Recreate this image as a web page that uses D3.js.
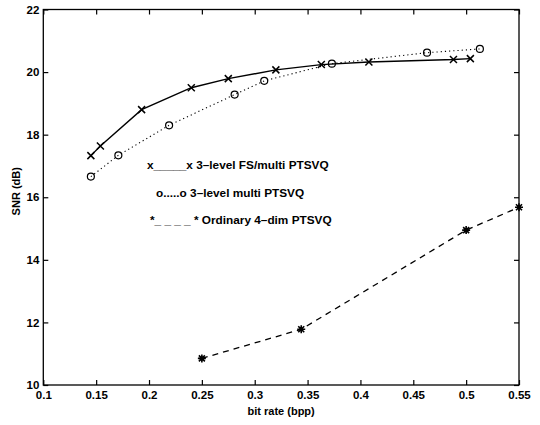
<!DOCTYPE html>
<html>
<head>
<meta charset="utf-8">
<script src="https://cdn.jsdelivr.net/npm/d3@7"></script>
<style>
  html, body { margin: 0; padding: 0; background: #fff; }
  svg { display: block; }
  text { font-family: "Liberation Sans", Arial, sans-serif; fill: #000; }
</style>
</head>
<body>
<svg id="chart" width="540" height="425"></svg>
<script>
// ---- data ----
const xTickValues = [0.1, 0.15, 0.2, 0.25, 0.3, 0.35, 0.4, 0.45, 0.5, 0.55];
const xTickLabels = ["0.1", "0.15", "0.2", "0.25", "0.3", "0.35", "0.4", "0.45", "0.5", "0.55"];
const yTickValues = [10, 12, 14, 16, 18, 20, 22];
const yTickLabels = ["10", "12", "14", "16", "18", "20", "22"];

const fsMultiRate = [0.145, 0.154, 0.193, 0.240, 0.275, 0.320, 0.363, 0.408, 0.488, 0.504];
const fsMultiSNR  = [17.33, 17.64, 18.80, 19.50, 19.79, 20.07, 20.24, 20.32, 20.40, 20.43];

const multiRate = [0.145, 0.171, 0.219, 0.281, 0.309, 0.373, 0.463, 0.513];
const multiSNR  = [16.66, 17.34, 18.30, 19.28, 19.72, 20.27, 20.62, 20.74];

const ordRate = [0.250, 0.344, 0.500, 0.550];
const ordSNR  = [10.85, 11.78, 14.95, 15.68];

const legendLabels = [
  "x_____x 3\u2013level FS/multi PTSVQ",
  "o.....o 3\u2013level multi PTSVQ",
  "*_ _ _ _ * Ordinary 4\u2013dim PTSVQ"
];
const xLabel = "bit rate (bpp)";
const yLabel = "SNR (dB)";

// ---- layout ----
const svg = d3.select("#chart");
const L = 43.3, R = 519, T = 9.5, B = 385;
const x = d3.scaleLinear().domain([0.1, 0.55]).range([L, R]);
const y = d3.scaleLinear().domain([10, 22]).range([B, T]);

const fmtX = d => xTickLabels[xTickValues.indexOf(d)];
const fmtY = d => yTickLabels[yTickValues.indexOf(d)];

const gx = svg.append("g").attr("transform", `translate(0,${B})`)
  .call(d3.axisBottom(x).tickValues(xTickValues).tickFormat(fmtX).tickSize(-5).tickPadding(4));
const gy = svg.append("g").attr("transform", `translate(${L},0)`)
  .call(d3.axisLeft(y).tickValues(yTickValues).tickFormat(fmtY).tickSize(-5).tickPadding(4));
const gt = svg.append("g").attr("transform", `translate(0,${T})`)
  .call(d3.axisTop(x).tickValues(xTickValues).tickFormat("").tickSize(-5));
const gr = svg.append("g").attr("transform", `translate(${R},0)`)
  .call(d3.axisRight(y).tickValues(yTickValues).tickFormat("").tickSize(-5));

[gx, gy, gt, gr].forEach(g => {
  g.select(".domain").remove();
  g.selectAll(".tick line").attr("stroke", "#000").attr("stroke-width", 1.2);
  g.selectAll(".tick text").attr("font-size", 11.5).attr("font-weight", "bold")
    .attr("font-family", "'Liberation Sans', Arial, sans-serif").attr("fill", "#000");
});
gx.selectAll(".tick text").attr("dy", "0.85em");

svg.append("rect").attr("x", L).attr("y", T).attr("width", R - L).attr("height", B - T)
  .attr("fill", "none").attr("stroke", "#000").attr("stroke-width", 1.3);

svg.append("text").attr("x", (L + R) / 2).attr("y", 415).attr("text-anchor", "middle")
  .attr("font-size", 11).attr("font-weight", "bold").text(xLabel);
svg.append("text").attr("transform", `translate(20,${(T + B) / 2 - 6}) rotate(-90)`)
  .attr("text-anchor", "middle").attr("font-size", 11).attr("font-weight", "bold").text(yLabel);

const line = (xs, ys) => d3.line().x((d, i) => x(xs[i])).y((d, i) => y(ys[i]))(xs);

svg.append("path").attr("d", line(multiRate, multiSNR)).attr("fill", "none")
  .attr("stroke", "#000").attr("stroke-width", 1.1).attr("stroke-dasharray", "1.2,3");
svg.append("path").attr("d", line(fsMultiRate, fsMultiSNR)).attr("fill", "none")
  .attr("stroke", "#000").attr("stroke-width", 1.4);
svg.append("path").attr("d", line(ordRate, ordSNR)).attr("fill", "none")
  .attr("stroke", "#000").attr("stroke-width", 1.3).attr("stroke-dasharray", "6,5");

const s = 3.5;
svg.append("g").selectAll("path").data(fsMultiRate).join("path")
  .attr("d", (d, i) => {
    const cx = x(d), cy = y(fsMultiSNR[i]);
    return `M${cx - s},${cy - s}L${cx + s},${cy + s}M${cx - s},${cy + s}L${cx + s},${cy - s}`;
  })
  .attr("stroke", "#000").attr("stroke-width", 1.5).attr("fill", "none");

svg.append("g").selectAll("circle").data(multiRate).join("circle")
  .attr("cx", d => x(d)).attr("cy", (d, i) => y(multiSNR[i])).attr("r", 3.5)
  .attr("fill", "none").attr("stroke", "#000").attr("stroke-width", 1.2);

const a = 4;
svg.append("g").selectAll("path").data(ordRate).join("path")
  .attr("d", (d, i) => {
    const cx = x(d), cy = y(ordSNR[i]);
    return `M${cx - a},${cy}L${cx + a},${cy}M${cx},${cy - a}L${cx},${cy + a}` +
           `M${cx - a * 0.75},${cy - a * 0.75}L${cx + a * 0.75},${cy + a * 0.75}` +
           `M${cx - a * 0.75},${cy + a * 0.75}L${cx + a * 0.75},${cy - a * 0.75}`;
  })
  .attr("stroke", "#000").attr("stroke-width", 1.6).attr("fill", "none");

const legX = [147, 156, 150];
const legY = [169, 197, 224];
svg.append("g").selectAll("text").data(legendLabels).join("text")
  .attr("x", (d, i) => legX[i]).attr("y", (d, i) => legY[i])
  .attr("font-size", 11.8).attr("font-weight", "bold").text(d => d);
</script>
</body>
</html>
